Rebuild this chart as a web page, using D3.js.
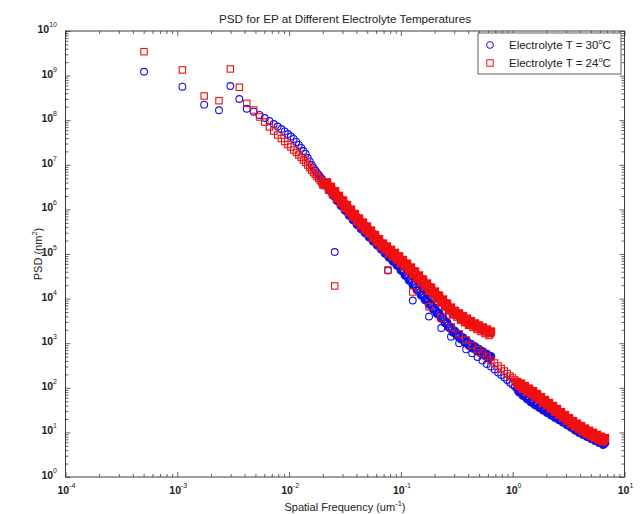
<!DOCTYPE html>
<html><head><meta charset="utf-8">
<script src="https://cdn.jsdelivr.net/npm/d3@7"></script>
<style>
body{margin:0;background:#fff}
svg{display:block}
text{font-family:"Liberation Sans",Arial,Helvetica,sans-serif;fill:#222}
</style>
</head><body>
<svg id="chart" width="640" height="514"></svg>
<script>
// ---------------- data ----------------
const titleText = "PSD for EP at Different Electrolyte Temperatures";
const xLabelText = "Spatial Frequency (um";
const yLabelText = "PSD (nm";
const seriesNames = ["Electrolyte T = 30", "Electrolyte T = 24"];
const xTickExponents = [-4, -3, -2, -1, 0, 1];
const yTickExponents = [0, 1, 2, 3, 4, 5, 6, 7, 8, 9, 10];

// long-scan spatial frequencies (um^-1)
const freqLow = [5.04e-4,1.11e-3,1.74e-3,2.36e-3,2.98e-3,3.59e-3,4.18e-3,4.82e-3,5.44e-3,6.05e-3,6.67e-3,7.29e-3,7.90e-3,8.52e-3,9.14e-3,9.76e-3,1.037e-2,1.099e-2,1.161e-2,1.222e-2,1.284e-2,1.346e-2,1.408e-2,1.469e-2,1.531e-2,1.593e-2,1.655e-2,1.716e-2,1.778e-2,1.840e-2,1.901e-2,1.963e-2,2.025e-2,
0.02095,0.02139,0.02183,0.02229,0.02275,0.02322,0.02370,0.02420,0.02470,0.02522,0.02574,0.02628,0.02682,0.02738,0.02795,0.02853,0.02912,0.02973,0.03035,0.03098,0.03162,0.03228,0.03295,0.03364,0.03434,0.03506,0.03578,0.03653,0.03728,0.03806,0.03885,0.03966,0.04048,0.04133,0.04219,0.04307,0.04396,0.04488,0.04581,0.04677,0.04773,0.04873,0.04974,0.05078,0.05183,0.05292,0.05401,0.05514,0.05628,0.05746,0.05864,0.05987,0.06111,0.06239,0.06368,0.06502,0.06637,0.06776,0.06915,0.07060,0.07206,0.07357,0.07509,0.07667,0.07825,0.07989,0.08154,0.08325,0.08497,0.08676,0.08855,0.09041,0.09228,0.09422,0.09616,0.09818,0.1002,0.1023,0.1044,0.1066,0.1088,0.1111,0.1134,0.1158,0.1182,0.1206,0.1231,0.1257,0.1283,0.1310,0.1337,0.1365,0.1393,0.1422,0.1452,0.1482,0.1513,0.1545,0.1577,0.1610,0.1643,0.1677,0.1712,0.1748,0.1784,0.1821,0.1859,0.1898,0.1937,0.1977,0.2018,0.2060,0.2103,0.2147,0.2192,0.2238,0.2284,0.2332,0.2380,0.2430,0.2480,0.2532,0.2584,0.2638,0.2693,0.2749,0.2806,0.2865,0.2924,0.2985,0.3047,0.3111,0.3175,0.3241,0.3308,0.3378,0.3448,0.3520,0.3593,0.3668,0.3744,0.3822,0.3901,0.3983,0.4065,0.4150,0.4236,0.4325,0.4414,0.4507,0.4600,0.4696,0.4793,0.4894,0.4995,0.5100,0.5205,0.5314,0.5424,0.5538,0.5652,0.5770,0.5889,0.6013,0.6137,0.6266,0.6395];
const psd30Low = [1.22e9,5.64e8,2.23e8,1.67e8,5.85e8,2.99e8,1.81e8,1.55e8,1.31e8,1.12e8,9.6e7,8.2e7,7.2e7,6.35e7,5.6e7,4.9e7,4.3e7,3.8e7,3.25e7,2.8e7,2.4e7,2.04e7,1.75e7,1.42e7,1.19e7,9.9e6,8.5e6,7.45e6,6.55e6,5.9e6,5.3e6,4.8e6,4.3e6,
3.52e6,3.56e6,3.60e6,3.15e6,2.69e6,2.72e6,2.75e6,2.41e6,2.06e6,2.08e6,2.10e6,1.84e6,1.57e6,1.59e6,1.61e6,1.41e6,1.21e6,1.23e6,1.25e6,1.10e6,9.45e5,9.60e5,9.75e5,8.57e5,7.38e5,7.50e5,7.62e5,6.71e5,5.80e5,5.91e5,6.01e5,5.29e5,4.57e5,4.66e5,4.74e5,4.19e5,3.64e5,3.74e5,3.83e5,3.40e5,2.96e5,3.04e5,3.11e5,2.76e5,2.40e5,2.47e5,2.53e5,2.24e5,1.95e5,2.01e5,2.06e5,1.83e5,1.59e5,1.63e5,1.67e5,1.48e5,1.29e5,1.31e5,1.33e5,1.18e5,1.03e5,1.06e5,1.08e5,9.58e4,8.35e4,8.57e4,8.79e4,7.79e4,6.79e4,6.97e4,7.15e4,6.34e4,5.52e4,5.59e4,5.66e4,4.98e4,4.29e4,4.35e4,4.40e4,3.87e4,3.33e4,3.38e4,3.42e4,3.00e4,2.57e4,2.61e4,2.65e4,2.33e4,2.00e4,2.03e4,2.05e4,1.80e4,1.55e4,1.57e4,1.59e4,1.40e4,1.20e4,1.22e4,1.24e4,1.09e4,9.40e3,9.58e3,9.75e3,8.58e3,7.41e3,7.57e3,7.73e3,6.80e3,5.87e3,5.99e3,6.10e3,5.37e3,4.63e3,4.71e3,4.78e3,4.20e3,3.62e3,3.69e3,3.75e3,3.30e3,2.84e3,2.89e3,2.93e3,2.58e3,2.22e3,2.26e3,2.30e3,2.02e3,1.74e3,1.81e3,1.87e3,1.67e3,1.47e3,1.52e3,1.57e3,1.41e3,1.24e3,1.29e3,1.33e3,1.19e3,1.04e3,1.08e3,1.12e3,1000,879,917,955,860,764,802,839,756,672,705,738,664,590,620,649,584,519,545,570,515,459,482,504];
const psd24Low = [3.44e9,1.34e9,3.49e8,2.74e8,1.41e9,5.47e8,2.39e8,1.69e8,1.18e8,9.1e7,7.05e7,5.7e7,4.66e7,3.89e7,3.33e7,2.85e7,2.5e7,2.15e7,1.89e7,1.66e7,1.46e7,1.28e7,1.13e7,9.9e6,8.7e6,7.6e6,6.7e6,6.07e6,5.47e6,4.93e6,4.45e6,4.0e6,3.6e6,
3.52e6,3.79e6,4.05e6,3.42e6,2.79e6,3.00e6,3.21e6,2.71e6,2.20e6,2.38e6,2.55e6,2.15e6,1.75e6,1.88e6,2.01e6,1.70e6,1.38e6,1.49e6,1.59e6,1.34e6,1.09e6,1.17e6,1.25e6,1.05e6,8.59e5,9.25e5,9.91e5,8.37e5,6.82e5,7.36e5,7.89e5,6.66e5,5.43e5,5.86e5,6.28e5,5.32e5,4.36e5,4.72e5,5.08e5,4.31e5,3.54e5,3.84e5,4.14e5,3.51e5,2.88e5,3.12e5,3.35e5,2.84e5,2.32e5,2.50e5,2.68e5,2.27e5,1.86e5,2.01e5,2.15e5,1.82e5,1.49e5,1.61e5,1.72e5,1.47e5,1.22e5,1.35e5,1.47e5,1.26e5,1.04e5,1.14e5,1.24e5,1.06e5,8.83e4,9.72e4,1.06e5,9.07e4,7.53e4,8.20e4,8.87e4,7.55e4,6.22e4,6.78e4,7.33e4,6.24e4,5.14e4,5.61e4,6.07e4,5.16e4,4.25e4,4.62e4,4.98e4,4.23e4,3.47e4,3.77e4,4.06e4,3.44e4,2.82e4,3.06e4,3.30e4,2.80e4,2.30e4,2.49e4,2.68e4,2.28e4,1.87e4,2.03e4,2.18e4,1.85e4,1.52e4,1.65e4,1.77e4,1.51e4,1.24e4,1.34e4,1.44e4,1.22e4,1.00e4,1.09e4,1.17e4,9.94e3,8.18e3,8.87e3,9.55e3,8.10e3,6.65e3,7.21e3,7.76e3,6.59e3,5.41e3,5.86e3,6.31e3,5.36e3,4.40e3,4.86e3,5.32e3,4.59e3,3.85e3,4.26e3,4.66e3,4.02e3,3.37e3,3.72e3,4.07e3,3.51e3,2.94e3,3.25e3,3.56e3,3.07e3,2.57e3,2.84e3,3.11e3,2.68e3,2.25e3,2.51e3,2.77e3,2.40e3,2.03e3,2.26e3,2.49e3,2.16e3,1.83e3,2.04e3,2.25e3,1.95e3,1.65e3,1.84e3,2.03e3,1.76e3,1.49e3,1.66e3,1.83e3];

// short-scan spatial frequencies (um^-1)
const freqHigh = [0.0256,0.0766,0.1276,0.1786,0.2296,0.2806,0.3316,0.3826,0.4336,0.4846,0.5356,0.5866,0.6376,0.6886,0.7396,0.7906,0.8416,0.8926,0.9436,0.9946,1.0456,1.0966,
1.118,1.139,1.163,1.187,1.212,1.236,1.262,1.288,1.316,1.343,1.371,1.399,1.429,1.458,1.489,1.519,1.551,1.583,1.617,1.650,1.685,1.719,1.755,1.791,1.829,1.867,1.906,1.945,1.986,2.027,2.070,2.112,2.157,2.201,2.248,2.294,2.342,2.390,2.441,2.491,2.544,2.596,2.651,2.705,2.762,2.818,2.878,2.937,2.999,3.060,3.125,3.189,3.256,3.323,3.393,3.463,3.536,3.608,3.684,3.760,3.839,3.918,4.001,4.083,4.169,4.255,4.345,4.434,4.527,4.620,4.717,4.814,4.916,5.017,5.123,5.228,5.338,5.448,5.563,5.677,5.797,5.916,6.040,6.164,6.294,6.424,6.559,6.694];
const psd30High = [1.11e5,4.27e4,9.06e3,3.97e3,2.19e3,1.40e3,995,730,594,491,409,342,300,257,220,194,170,150,131,119,107,96.4,
88,80.1,82.5,84.8,75.7,66.5,68.8,71.1,63.6,56.1,58.1,60.0,53.8,47.5,49.7,51.9,46.7,41.4,43.3,45.2,40.7,36.2,37.9,39.5,35.6,31.6,33.2,34.7,31.3,27.8,29.2,30.5,27.5,24.4,25.6,26.8,24.2,21.5,22.6,23.6,21.3,19.0,19.9,20.7,18.7,16.7,17.5,18.3,16.5,14.7,15.4,16.1,14.5,12.9,13.5,14.1,12.7,11.3,11.9,12.4,11.2,9.90,10.4,10.9,9.89,8.88,9.36,9.84,8.93,8.01,8.45,8.88,8.05,7.22,7.62,8.01,7.27,6.52,6.87,7.22,6.55,5.88,6.20,6.52,5.91,5.30,5.55,5.79];
const psd24High = [1.92e4,4.38e4,1.41e4,6.58e3,3.67e3,2.31e3,1.61e3,1.18e3,888,722,603,504,420,360,308,271,238,209,184,166,150,135,
122,110,117,124,109,94.4,102,109,96.0,83.0,89.5,95.9,84.5,73.0,78.7,84.3,73.9,63.5,67.9,72.3,63.3,54.3,58.1,61.8,54.3,46.8,50.0,53.2,46.7,40.1,42.9,45.6,40.0,34.4,36.8,39.1,34.3,29.4,31.5,33.5,29.4,25.2,26.9,28.5,25.0,21.5,23.0,24.4,21.4,18.4,19.7,20.9,18.3,15.7,16.8,17.9,15.8,13.6,14.7,15.7,13.9,12.0,12.9,13.8,12.2,10.5,11.4,12.2,10.7,9.25,10.1,10.9,9.65,8.39,9.10,9.80,8.69,7.57,8.20,8.83,7.83,6.82,7.42,8.01,7.15,6.28,6.87,7.45];

// ---------------- layout ----------------
const W = 640, H = 514;
const plot = {left: 65.5, right: 624.5, top: 31, bottom: 477};
const blue = "#1010f0", red = "#f01010", axisColor = "#3a3a3a";

const svg = d3.select("#chart");
svg.append("rect").attr("width", W).attr("height", H).attr("fill", "#fff");

const x = d3.scaleLog().domain([1e-4, 10]).range([plot.left, plot.right]);
const y = d3.scaleLog().domain([1, 1e10]).range([plot.bottom, plot.top]);

// minor tick values
const xMinor = [], yMinor = [];
xTickExponents.slice(0, -1).forEach(e => { for (let d = 2; d <= 9; d++) xMinor.push(d * Math.pow(10, e)); });
yTickExponents.slice(0, -1).forEach(e => { for (let d = 2; d <= 9; d++) yMinor.push(d * Math.pow(10, e)); });
const xMajor = xTickExponents.map(e => Math.pow(10, e));
const yMajor = yTickExponents.map(e => Math.pow(10, e));

function drawAxis(axisGen, tx, ty, values, size) {
  const g = svg.append("g").attr("transform", `translate(${tx},${ty})`)
    .call(axisGen.tickValues(values).tickSize(size).tickFormat(""));
  g.select(".domain").remove();
  g.selectAll("line").attr("stroke", axisColor).attr("stroke-width", 0.8);
}
// inward ticks on all four sides
drawAxis(d3.axisBottom(x), 0, plot.bottom, xMajor, -5);
drawAxis(d3.axisBottom(x), 0, plot.bottom, xMinor, -3);
drawAxis(d3.axisTop(x), 0, plot.top, xMajor, -5);
drawAxis(d3.axisTop(x), 0, plot.top, xMinor, -3);
drawAxis(d3.axisLeft(y), plot.left, 0, yMajor, -5);
drawAxis(d3.axisLeft(y), plot.left, 0, yMinor, -3);
drawAxis(d3.axisRight(y), plot.right, 0, yMajor, -5);
drawAxis(d3.axisRight(y), plot.right, 0, yMinor, -3);

svg.append("rect")
  .attr("x", plot.left).attr("y", plot.top)
  .attr("width", plot.right - plot.left).attr("height", plot.bottom - plot.top)
  .attr("fill", "none").attr("stroke", axisColor).attr("stroke-width", 1);

// tick labels 10^n
xTickExponents.forEach(e => {
  const t = svg.append("text").attr("x", x(Math.pow(10, e)) + 1).attr("y", 494)
    .attr("text-anchor", "middle").attr("font-size", 10.5).attr("font-weight", "bold");
  t.append("tspan").text("10");
  t.append("tspan").attr("dy", -6).attr("font-size", 7).attr("font-weight", "normal").text(String(e));
});
yTickExponents.forEach(e => {
  const t = svg.append("text").attr("x", 57).attr("y", y(Math.pow(10, e)) + 2)
    .attr("text-anchor", "end").attr("font-size", 10.5).attr("font-weight", "bold");
  t.append("tspan").text("10");
  t.append("tspan").attr("dy", -6).attr("font-size", 7).attr("font-weight", "normal").text(String(e));
});

// title & axis labels
svg.append("text").attr("x", (plot.left + plot.right) / 2).attr("y", 23)
  .attr("text-anchor", "middle").attr("font-size", 11.5)
  .attr("textLength", 252).attr("lengthAdjust", "spacingAndGlyphs").text(titleText);

const xl = svg.append("text").attr("x", (plot.left + plot.right) / 2).attr("y", 511)
  .attr("text-anchor", "middle").attr("font-size", 11);
xl.append("tspan").text(xLabelText);
xl.append("tspan").attr("dy", -5).attr("font-size", 7.5).text("-1");
xl.append("tspan").attr("dy", 5).text(")");

const yl = svg.append("text").attr("transform", `translate(42,${(plot.top + plot.bottom) / 2}) rotate(-90)`)
  .attr("text-anchor", "middle").attr("font-size", 11);
yl.append("tspan").text(yLabelText);
yl.append("tspan").attr("dy", -5).attr("font-size", 7.5).text("2");
yl.append("tspan").attr("dy", 5).text(")");

// ---------------- markers ----------------
// where markers crowd together (overlapping printed symbols) the outline reads heavier
function pointsOf(fs, ps) {
  const pts = d3.zip(fs, ps).map(d => ({cx: x(d[0]), cy: y(d[1])}));
  pts.forEach((p, i) => {
    const nb = [pts[i - 1], pts[i + 1]].filter(Boolean);
    const dmin = d3.min(nb, q => Math.hypot(q.cx - p.cx, q.cy - p.cy));
    p.sw = dmin < 2.2 ? 2.0 : 1.1;
  });
  return pts;
}
const marks = svg.append("g");
function circles(fs, ps, color) {
  marks.append("g").selectAll("circle").data(pointsOf(fs, ps)).join("circle")
    .attr("cx", d => d.cx).attr("cy", d => d.cy).attr("r", 3.4)
    .attr("fill", "none").attr("stroke", color).attr("stroke-width", d => d.sw);
}
function squares(fs, ps, color) {
  const s = 6.4;
  marks.append("g").selectAll("rect").data(pointsOf(fs, ps)).join("rect")
    .attr("x", d => d.cx - s / 2).attr("y", d => d.cy - s / 2)
    .attr("width", s).attr("height", s)
    .attr("fill", "none").attr("stroke", color).attr("stroke-width", d => d.sw);
}
circles(freqLow, psd30Low, blue);
circles(freqHigh, psd30High, blue);
squares(freqLow, psd24Low, red);
squares(freqHigh, psd24High, red);

// ---------------- legend ----------------
const lg = svg.append("g");
lg.append("rect").attr("x", 478).attr("y", 33).attr("width", 143).attr("height", 41)
  .attr("fill", "#fff").attr("stroke", axisColor).attr("stroke-width", 0.8);
[0, 1].forEach(i => {
  const cy = 45 + i * 18;
  if (i === 0) {
    lg.append("circle").attr("cx", 490).attr("cy", cy).attr("r", 3.4)
      .attr("fill", "none").attr("stroke", blue).attr("stroke-width", 1);
  } else {
    lg.append("rect").attr("x", 490 - 3.2).attr("y", cy - 3.2).attr("width", 6.4).attr("height", 6.4)
      .attr("fill", "none").attr("stroke", red).attr("stroke-width", 1);
  }
  const t = lg.append("text").attr("x", 509).attr("y", cy + 4).attr("font-size", 11.5);
  t.append("tspan").text(seriesNames[i]);
  t.append("tspan").attr("dy", -5).attr("font-size", 7.5).text("o");
  t.append("tspan").attr("dy", 5).text("C");
});
</script>
</body></html>
